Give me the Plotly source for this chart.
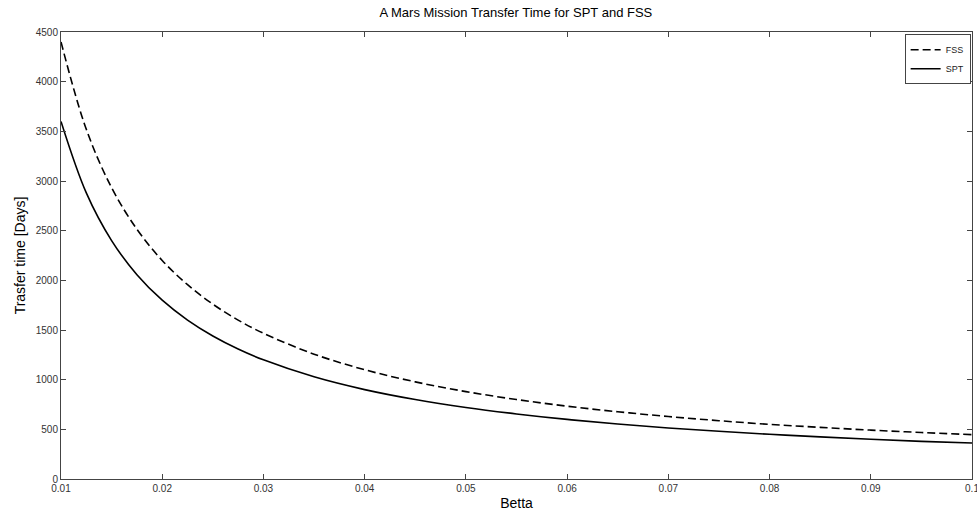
import plotly.graph_objects as go

betta = [0.01, 0.0125, 0.015, 0.0175, 0.02, 0.0225, 0.025, 0.0275, 0.03, 0.035, 0.04, 0.045,
         0.05, 0.055, 0.06, 0.065, 0.07, 0.075, 0.08, 0.085, 0.09, 0.095, 0.1]
fss = [4400, 3520, 2933, 2514, 2200, 1956, 1760, 1600, 1467, 1257, 1100, 978,
       880, 800, 733, 677, 629, 587, 550, 520, 492, 468, 447]
spt = [3600, 2880, 2400, 2057, 1800, 1600, 1440, 1309, 1200, 1029, 900, 800,
       720, 655, 600, 554, 514, 480, 450, 424, 400, 379, 362]

x_ticks = [0.01, 0.02, 0.03, 0.04, 0.05, 0.06, 0.07, 0.08, 0.09, 0.1]
x_tick_text = ["0.01", "0.02", "0.03", "0.04", "0.05", "0.06", "0.07", "0.08", "0.09", "0.1"]
y_ticks = [0, 500, 1000, 1500, 2000, 2500, 3000, 3500, 4000, 4500]

fig = go.Figure()
fig.add_trace(go.Scatter(x=betta, y=fss, name="FSS", mode="lines",
                         line=dict(color="black", width=1.6, dash="8px,4px", shape="spline")))
fig.add_trace(go.Scatter(x=betta, y=spt, name="SPT", mode="lines",
                         line=dict(color="black", width=1.6, shape="spline")))

font_family = "Liberation Sans, Arial, sans-serif"
fig.update_layout(
    width=977, height=514,
    margin=dict(l=61, r=5, t=32, b=35),
    paper_bgcolor="white", plot_bgcolor="white",
    font=dict(family=font_family, color="#222", size=10),
    title=dict(text="A Mars Mission Transfer Time for SPT and FSS", x=0.528, xanchor="center",
               y=0.975, yanchor="middle", font=dict(size=13, color="black")),
    showlegend=True,
    legend=dict(x=0.9985, y=0.995, xanchor="right", yanchor="top",
                bgcolor="white", bordercolor="#444", borderwidth=1,
                font=dict(size=9, color="#222"), tracegroupgap=0,
                itemwidth=30),
)
fig.update_xaxes(range=[0.01, 0.1000001], tickvals=x_ticks, ticktext=x_tick_text,
                 ticks="inside", ticklen=5, tickcolor="#444", mirror="ticks",
                 showline=True, linecolor="#444", linewidth=1, showgrid=False, zeroline=False,
                 tickfont=dict(size=10, color="#333"), ticklabeloverflow="allow",
                 automargin=False,
                 title=dict(text="Betta", font=dict(size=14, color="black"), standoff=5))
fig.update_yaxes(range=[0, 4500], tickvals=y_ticks,
                 ticks="inside", ticklen=5, tickcolor="#444", mirror="ticks",
                 showline=True, linecolor="#444", linewidth=1, showgrid=False, zeroline=False,
                 tickfont=dict(size=10, color="#333"),
                 title=dict(text="Trasfer time [Days]", font=dict(size=14, color="black"), standoff=6))

fig.write_html("out.html")
